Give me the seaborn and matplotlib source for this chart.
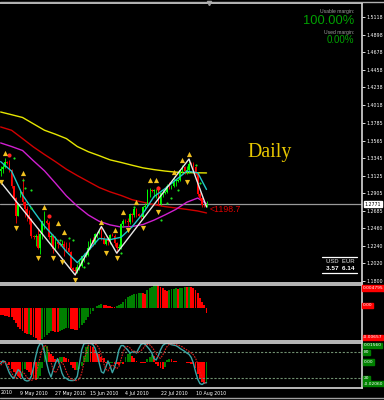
import numpy as np
import pandas as pd
import matplotlib
matplotlib.use("Agg")
import matplotlib.pyplot as plt
import seaborn as sns
from matplotlib import font_manager as fm

# ---------------- data ----------------
opens = [1.3185,1.3205,1.3235,1.3290,1.3285,1.3195,1.2990,1.2840,1.2620,1.2900,
         1.2920,1.2790,1.2700,1.2630,1.2580,1.2360,1.2350,1.2370,1.2215,1.2390,
         1.2550,1.2560,1.2530,1.2350,1.2370,1.2200,1.2290,1.2270,1.2255,1.2270,
         1.2230,1.2220,1.2170,1.1965,1.1935,1.1930,1.1970,1.1985,1.2110,1.2120,
         1.2130,1.2220,1.2320,1.2280,1.2390,1.2400,1.2430,1.2340,1.2270,1.2310,
         1.2300,1.2380,1.2370,1.2280,1.2210,1.2230,1.2510,1.2560,1.2550,1.2540,
         1.2640,1.2630,1.2700,1.2640,1.2620,1.2610,1.2730,1.2740,1.2940,1.2940,
         1.2930,1.2940,1.2940,1.2770,1.2900,1.2910,1.2920,1.3000,1.2990,1.2990,
         1.3060,1.3060,1.3070,1.3190,1.3230,1.3180,1.3200,1.3270,1.3265,1.3230,
         1.3150,1.2890,1.2840,1.2750,1.2745]
highs = [1.3240,1.3270,1.3340,1.3305,1.3320,1.3210,1.3000,1.2860,1.2780,1.2950,
         1.3095,1.2800,1.2740,1.2690,1.2595,1.2375,1.2390,1.2460,1.2400,1.2560,
         1.2675,1.2575,1.2560,1.2385,1.2385,1.2370,1.2330,1.2285,1.2320,1.2300,
         1.2290,1.2290,1.2180,1.1975,1.1975,1.2010,1.2080,1.2120,1.2150,1.2140,
         1.2300,1.2340,1.2350,1.2400,1.2420,1.2440,1.2485,1.2365,1.2330,1.2350,
         1.2390,1.2400,1.2390,1.2290,1.2270,1.2530,1.2580,1.2575,1.2590,1.2660,
         1.2650,1.2730,1.2720,1.2660,1.2650,1.2740,1.2780,1.2960,1.2970,1.2955,
         1.2950,1.2960,1.2990,1.2920,1.2960,1.2930,1.3020,1.3040,1.3010,1.3110,
         1.3080,1.3080,1.3205,1.3260,1.3240,1.3240,1.3333,1.3290,1.3290,1.3240,
         1.3160,1.2920,1.2860,1.2765,1.2800]
lows = [1.3115,1.3160,1.3220,1.3275,1.3175,1.2975,1.2815,1.2530,1.2620,1.2850,
        1.2750,1.2600,1.2560,1.2520,1.2340,1.2330,1.2235,1.2200,1.2143,1.2330,
        1.2450,1.2520,1.2330,1.2235,1.2155,1.2180,1.2215,1.2240,1.2250,1.2110,
        1.2160,1.2160,1.1960,1.1920,1.1876,1.1895,1.1935,1.1980,1.2040,1.2105,
        1.2120,1.2200,1.2240,1.2260,1.2340,1.2390,1.2310,1.2265,1.2250,1.2250,
        1.2270,1.2360,1.2240,1.2150,1.2190,1.2200,1.2480,1.2530,1.2490,1.2520,
        1.2540,1.2600,1.2610,1.2610,1.2580,1.2590,1.2690,1.2730,1.2860,1.2920,
        1.2850,1.2840,1.2760,1.2760,1.2850,1.2890,1.2900,1.2950,1.2950,1.2980,
        1.3000,1.3040,1.3060,1.3160,1.3150,1.3140,1.3160,1.3250,1.3210,1.3130,
        1.2870,1.2820,1.2730,1.2730,1.2730]
closes = [1.3205,1.3235,1.3295,1.3285,1.3195,1.2990,1.2840,1.2620,1.2750,1.2920,
          1.2790,1.2700,1.2630,1.2580,1.2360,1.2350,1.2370,1.2215,1.2390,1.2550,
          1.2560,1.2530,1.2350,1.2370,1.2200,1.2290,1.2270,1.2255,1.2270,1.2230,
          1.2220,1.2170,1.1965,1.1935,1.1930,1.1970,1.1985,1.2110,1.2110,1.2130,
          1.2220,1.2320,1.2280,1.2390,1.2390,1.2430,1.2340,1.2270,1.2310,1.2300,
          1.2380,1.2370,1.2280,1.2210,1.2230,1.2510,1.2560,1.2550,1.2540,1.2640,
          1.2630,1.2700,1.2640,1.2620,1.2610,1.2730,1.2740,1.2940,1.2940,1.2930,
          1.2940,1.2940,1.2770,1.2900,1.2910,1.2920,1.3000,1.2990,1.2990,1.3060,
          1.3060,1.3070,1.3190,1.3230,1.3180,1.3200,1.3270,1.3265,1.3230,1.3150,
          1.2890,1.2840,1.2750,1.2745,1.2771]
bar_idx = list(range(len(closes)))

ma_idx = [0, 5, 10, 15, 20, 25, 30, 35, 40, 45, 50, 55, 60, 65, 70, 75, 80, 85, 90, 94]
ma_yellow = [1.3924,1.3890,1.3855,1.3775,1.3695,1.3645,1.3590,1.3490,1.3425,1.3375,
             1.3322,1.3290,1.3255,1.3222,1.3200,1.3182,1.3168,1.3162,1.3160,1.3158]
ma_red = [1.3736,1.3694,1.3590,1.3484,1.3390,1.3300,1.3205,1.3125,1.3050,1.2975,
          1.2920,1.2875,1.2822,1.2790,1.2760,1.2735,1.2718,1.2700,1.2680,1.2655]
ma_magenta = [1.3535,1.3490,1.3440,1.3310,1.3185,1.3030,1.2870,1.2740,1.2630,1.2550,
              1.2505,1.2478,1.2485,1.2510,1.2565,1.2630,1.2700,1.2790,1.2843,1.2770]
ma_cyan = [1.3300,1.3180,1.2880,1.2680,1.2490,1.2340,1.2170,1.2030,1.2180,1.2335,
           1.2320,1.2350,1.2480,1.2650,1.2860,1.2960,1.3070,1.3180,1.3160,1.2950]

zz_idx = [0, 34, 46, 53, 86, 94]
zz_price = [1.3044, 1.1876, 1.2485, 1.2150, 1.3333, 1.2730]

frac_up_idx = [2, 10, 20, 26, 29, 46, 52, 56, 62, 68, 71, 79, 83, 86]
frac_up_price = [1.3409,1.3158,1.2730,1.2529,1.2416,1.2542,1.2441,1.2667,1.2793,
                 1.3070,1.3070,1.3170,1.3321,1.3396]
frac_dn_idx = [0, 7, 17, 24, 28, 34, 48, 53, 58, 65, 72, 85]
frac_dn_price = [1.3044,1.2466,1.2089,1.2089,1.2039,1.1813,1.2152,1.2089,1.2441,
                 1.2466,1.2667,1.3044]

dot_idx = [6, 10, 11, 14, 14, 27, 31, 33, 36, 38, 40, 55, 61, 73, 76, 78, 81, 89, 91]
dot_price = [1.3346,1.3070,1.2969,1.2944,1.2718,1.2315,1.2340,1.2315,1.2026,1.1976,
             1.2026,1.2152,1.2730,1.2567,1.2781,1.2843,1.2944,1.3258,1.3032]
red_dot_idx = [4, 22, 72]
red_dot_price = [1.3384, 1.2617, 1.2969]

current_price = 1.2771
price_ticks = [1.5118,1.4898,1.4678,1.4458,1.4238,1.4018,1.3785,1.3565,1.3345,
               1.3125,1.2905,1.2685,1.2460,1.2240,1.2020,1.1800]

osc_hist = [-0.0013,-0.0014,-0.0015,-0.0016,-0.0017,-0.0019,-0.0024,-0.0031,-0.0038,-0.0043,
            -0.0047,-0.0050,-0.0053,-0.0052,-0.0055,-0.0058,-0.0061,-0.0064,-0.00657,-0.0062,
            -0.0058,-0.0054,-0.0050,-0.0046,-0.0047,-0.0048,-0.0049,-0.0046,-0.0044,-0.0042,
            -0.0041,-0.0040,-0.0042,-0.0043,-0.0044,-0.0045,-0.0040,-0.0035,-0.0030,-0.0024,
            -0.0018,-0.0012,-0.0006,0.0000,0.0004,0.0007,0.0008,0.0007,0.0006,0.0005,
            0.0004,0.0003,0.0002,0.0004,0.0006,0.0009,0.0013,0.0018,0.0022,0.0025,
            0.0027,0.0028,0.0029,0.0030,0.0031,0.0030,0.0029,0.0036,0.0040,0.0043,
            0.0046,0.004795,0.0046,0.0043,0.0040,0.0037,0.0035,0.0037,0.0038,0.0039,
            0.0040,0.0039,0.0040,0.0041,0.0042,0.0042,0.0043,0.0043,0.0041,0.0037,
            0.0030,0.0020,0.0013,0.0006,-0.0010]

stoch_main = [54,60,58,45,32,24,20,30,40,35,22,16,14,15,25,45,70,90,100,98,
              80,55,35,23,40,55,65,50,32,22,20,16,15,15,16,25,55,85,99,100,
              100,100,98,90,75,55,35,32,45,60,48,33,45,62,85,95,95,90,85,78,
              80,82,78,88,97,100,98,92,86,78,65,62,72,85,95,99,100,99,97,96,
              95,92,88,85,82,78,75,68,55,35,18,8,6,10,10]
stoch_signal = [50,55,58,52,42,32,25,21,24,31,35,30,22,17,15,18,28,47,68,87,
                96,93,78,57,38,33,40,53,57,49,35,25,19,17,15,15,19,32,55,80,
                95,100,100,99,96,88,73,55,41,37,46,51,47,42,47,64,81,92,93,90,
                84,81,80,80,83,88,95,98,97,92,85,76,68,66,73,84,93,98,99,99,
                97,96,94,92,88,85,82,78,74,66,53,36,20,11,8]
stoch_hist = [0.0010,0.0012,0.0008,0.0005,-0.0030,-0.0065,-0.0095,-0.0110,-0.0130,-0.0150,
              -0.0140,-0.0070,-0.0080,-0.0090,-0.0120,-0.0160,-0.0175,-0.0160,-0.0130,-0.0060,
              0.0150,0.0156,0.0100,0.0080,0.0060,0.0030,0.0025,0.0045,0.0050,0.0048,
              0.0035,0.0030,-0.0030,-0.0060,-0.0080,-0.0075,-0.0070,-0.0040,0.0060,0.0140,
              0.0156,0.0150,0.0140,0.0120,0.0090,0.0080,0.0050,0.0040,-0.0010,-0.0020,
              -0.0010,-0.0008,-0.0015,-0.0020,-0.0025,-0.0010,-0.0015,0.0050,0.0075,0.0090,
              0.0060,0.0040,0.0010,0.0005,-0.0005,-0.0008,-0.0010,0.0030,0.0050,0.0070,
              0.0060,-0.0015,-0.0040,-0.0060,-0.0070,-0.0050,0.0020,0.0030,0.0025,0.0008,
              0.0006,0.0005,0.0004,0.0002,0.0000,-0.0005,-0.0010,-0.0015,-0.0020,-0.0060,
              -0.0110,-0.0160,-0.0190,-0.0206,-0.0190]

date_idx = [9, 25, 41, 57, 73, 89]
date_labels = ["9 May 2010", "27 May 2010", "15 Jun 2010",
               "4 Jul 2010", "22 Jul 2010", "10 Aug 2010"]
edge_date_label = "2010"

# ---------------- style ----------------
sns.set_style("dark")
def has_font(name):
    try:
        fm.findfont(fm.FontProperties(family=name), fallback_to_default=False)
        return True
    except Exception:
        return False
NARROW = "Liberation Sans Narrow" if has_font("Liberation Sans Narrow") else "Liberation Sans"
plt.rcParams["font.family"] = ["DejaVu Sans"]
plt.rcParams["axes.facecolor"] = "black"
plt.rcParams["figure.facecolor"] = "black"

W, H = 384, 400
fig = plt.figure(figsize=(W / 100, H / 100), dpi=100)
fig.patch.set_facecolor("black")

def rect(x0, y0, x1, y1):
    return [x0 / W, 1 - y1 / H, (x1 - x0) / W, (y1 - y0) / H]

def ftext(x, y, s, **kw):
    return fig.text(x / W, 1 - y / H, s, **kw)

def fline(x0, x1, y, **kw):
    fig.add_artist(plt.Line2D([x0 / W, x1 / W], [1 - y / H, 1 - y / H], **kw))

ax = fig.add_axes(rect(0, 3, 362, 282.5))
axh = fig.add_axes(rect(0, 284.5, 362, 340.5))
axs = fig.add_axes(rect(0, 342.5, 362, 388))
XL = (-0.3, 165.0)
BORDER = "#d8d8d8"
for a in (ax, axh, axs):
    a.set_facecolor("black")
    a.set_xlim(*XL)
    a.grid(False)
    a.spines["left"].set_visible(False)
    for side in ("top", "right", "bottom"):
        a.spines[side].set_visible(True)
        a.spines[side].set_color(BORDER)
        a.spines[side].set_linewidth(1.2)
    a.set_xlabel("")
    a.set_ylabel("")
fline(0, 384, 1.5, color="#b0b0b0", lw=1.0)
fline(0, 384, 397.5, color="#a0a0a0", lw=1.0)

# ---------------- main price panel ----------------
ax.set_ylim(1.1781, 1.5294)
sns.lineplot(x=ma_idx, y=ma_yellow, ax=ax, color="#e6e600", lw=1.0)
sns.lineplot(x=ma_idx, y=ma_red, ax=ax, color="#d00000", lw=1.0)
sns.lineplot(x=ma_idx, y=ma_magenta, ax=ax, color="#d020d0", lw=1.0)
ax.axhline(current_price, color="#9a9a9a", lw=0.9, zorder=1)

o = np.array(opens); c = np.array(closes); hi = np.array(highs); lo = np.array(lows)
up = c >= o
ccol = np.where(up, "#00ff00", "#ff0000")
ax.vlines(bar_idx, lo, hi, colors=ccol, lw=0.6, zorder=3)
body = np.where(np.abs(c - o) < 0.0004, 0.0004, c - o)
ax.bar(bar_idx, body, bottom=o, width=0.75, color=ccol, lw=0, zorder=3)

sns.lineplot(x=ma_idx, y=ma_cyan, ax=ax, color="#20c8c8", lw=1.0, zorder=4)
sns.lineplot(x=zz_idx, y=zz_price, ax=ax, color="#e8e8e8", lw=1.0, zorder=5)
ax.scatter(dot_idx, dot_price, s=2.5, color="#20e020", zorder=5, lw=0)
ax.scatter(red_dot_idx, red_dot_price, s=9, color="#ff2020", zorder=5, lw=0)
ax.scatter(frac_up_idx, frac_up_price, marker="^", s=14, color="#f0c020", zorder=6, lw=0)
ax.scatter(frac_dn_idx, frac_dn_price, marker="v", s=14, color="#f0c020", zorder=6, lw=0)
ax.plot([95], [1.5294], marker="v", ms=3, color="#a0a0a0", clip_on=False, zorder=7)

ax.yaxis.tick_right()
ax.set_yticks(price_ticks)
ax.set_yticklabels([f"{v:.4f}" for v in price_ticks])
ax.tick_params(axis="y", colors="white", labelsize=3.4, length=2, width=0.6, pad=1.5,
               labelcolor="white")
ax.set_xticks([])

ftext(270, 152, "Daily", color="#e8c800", fontsize=14.3, family="Liberation Serif",
      ha="center", va="center")
ftext(210, 209.5, "<1198.7", color="#e00000", fontsize=6.3, family="Liberation Sans",
      ha="left", va="center")
ftext(354, 11.5, "Usable margin:", color="#a0a0a0", fontsize=3.6, family="Liberation Sans",
      ha="right", va="center")
ftext(354, 21.5, "100.00%", color="#00a000", fontsize=11 if NARROW.endswith("Narrow") else 9.3,
      family=NARROW, ha="right", va="center")
ftext(354, 32.5, "Used margin:", color="#a0a0a0", fontsize=3.6, family="Liberation Sans",
      ha="right", va="center")
ftext(354, 40.0, "0.00%", color="#00a000", fontsize=7, family="Liberation Sans",
      ha="right", va="center")
fline(322, 357, 257, color="white", lw=0.9)
fline(322, 357, 273, color="white", lw=0.9)
ftext(340, 261.5, "USD  EUR", color="#a0a0a0", fontsize=4.3, family="Liberation Sans",
      ha="center", va="center", weight="bold")
ftext(340, 268.5, "3.57  6.14", color="white", fontsize=4.6, family="Liberation Sans",
      ha="center", va="center", weight="bold")
ftext(373, 204, f"{current_price:.4f}", color="black", fontsize=3.4, ha="center", va="center",
      bbox=dict(boxstyle="square,pad=0.15", fc="white", ec="white"))

# ---------------- oscillator histogram panel ----------------
oh = np.array(osc_hist)
ocol = ["#008000" if (i > 0 and oh[i] > oh[i - 1]) else "#ff0000" for i in range(len(oh))]
axh.bar(bar_idx, oh, width=0.85, color=ocol, lw=0)
axh.set_ylim(min(osc_hist), max(osc_hist))
axh.set_yticks([]); axh.set_xticks([])
ftext(373, 288, "0.004795", color="white", fontsize=3.2, ha="center", va="center",
      bbox=dict(boxstyle="square,pad=0.12", fc="#ff0000", ec="#ff0000"))
ftext(367.5, 305.3, "0.00", color="white", fontsize=3.2, ha="center", va="center",
      bbox=dict(boxstyle="square,pad=0.12", fc="#ff0000", ec="#ff0000"))
ftext(373, 337.5, "-0.00657", color="white", fontsize=3.2, ha="center", va="center",
      bbox=dict(boxstyle="square,pad=0.12", fc="#ff0000", ec="#ff0000"))

# ---------------- stochastic panel ----------------
axs.set_ylim(-2, 102)
axs2 = axs.twinx()
axs2.set_xlim(*XL)
axs2.set_ylim(-0.0247, 0.0187)
sh = np.array(stoch_hist)
scol = ["#008000" if (i > 0 and sh[i] > sh[i - 1]) else "#ff0000" for i in range(len(sh))]
axs2.bar(bar_idx, sh, width=0.85, color=scol, lw=0, zorder=1)
axs2.set_yticks([])
for sp in axs2.spines.values():
    sp.set_visible(False)
axs.set_zorder(axs2.get_zorder() + 1)
axs.patch.set_visible(False)
for lvl in (80, 20):
    axs.axhline(lvl, color="#6f8f6f", lw=0.8, ls=(0, (2, 1.5)))
sns.lineplot(x=bar_idx, y=stoch_main, ax=axs, color="#3aa6a6", lw=1.0)
sns.lineplot(x=bar_idx, y=stoch_signal, ax=axs, color="#e02020", lw=0.8, ls=(0, (1.5, 1)))
axs.set_yticks([])
axs.set_xticks(date_idx)
axs.set_xticklabels(date_labels, ha="left", fontsize=3.4, color="white")
axs.tick_params(axis="x", colors="white", length=1.5, width=0.6, pad=0.3)
ftext(1, 393, edge_date_label, fontsize=3.4, color="white", ha="left", va="center")
for y, s in [(345.5, "0.01560"), (352.3, "80"), (362.0, "0.00"), (378.3, "20"),
             (383.7, "-0.02060")]:
    ftext(363.5, y, s, color="white", fontsize=3.2, ha="left", va="center",
          bbox=dict(boxstyle="square,pad=0.12", fc="#008000", ec="#008000"))

fig.savefig("out.png", dpi=100, facecolor="black")
